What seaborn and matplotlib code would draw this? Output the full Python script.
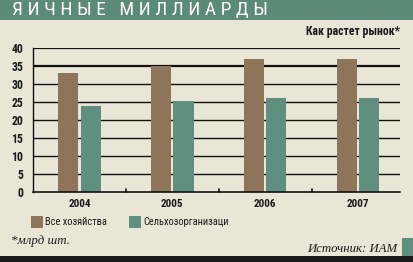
import matplotlib
matplotlib.use("Agg")
import matplotlib.pyplot as plt
import seaborn as sns
import pandas as pd
from matplotlib.patches import Rectangle
from matplotlib import font_manager as fm

years = ["2004", "2005", "2006", "2007"]
all_farms = [33.1, 35.1, 37.0, 37.0]
agri_orgs = [24.0, 25.2, 26.0, 26.0]
series_names = ["Все хозяйства", "Сельхозорганизаци"]
yticks = [0, 5, 10, 15, 20, 25, 30, 35, 40]

BG = "#e9e5d7"
BROWN = "#8e7559"
GREEN = "#5f8f7e"

df = pd.DataFrame({
    "year": years * 2,
    "value": all_farms + agri_orgs,
    "series": [series_names[0]] * 4 + [series_names[1]] * 4,
})

sns.set_theme(style="white")
installed = {f.name for f in fm.fontManager.ttflist}
COND = ["Roboto Condensed"] if "Roboto Condensed" in installed else ["DejaVu Sans"]
plt.rcParams["font.family"] = COND + ["DejaVu Sans"]
STRETCH = "condensed"

W, H = 414, 262
fig = plt.figure(figsize=(W / 100, H / 100), dpi=100, facecolor=BG)

def fx(px):
    return px / W

def fy(py):
    return 1 - py / H

ax = fig.add_axes([fx(33), fy(192), fx(400) - fx(33), fy(48) - fy(192)])
ax.set_facecolor(BG)

sns.barplot(data=df, x="year", y="value", hue="series", order=years,
            hue_order=series_names, palette=[BROWN, GREEN], width=0.48,
            gap=0.1, saturation=1, ax=ax, legend=False, edgecolor="none",
            linewidth=0, zorder=3)

ax.set_ylim(0, 40)
ax.set_xlim(-0.5, 3.45)
ax.set_yticks(yticks)
ax.set_yticklabels([str(t) for t in yticks], fontsize=8.5, fontweight="bold",
                   color="#1a1a1a", fontstretch=STRETCH)
for t in yticks[1:]:
    lw = 1.6 if t >= 35 else 1.0
    ax.axhline(t, color="#111111", lw=lw, zorder=1)
ax.set_xticks(range(len(years)))
ax.set_xticklabels(years, fontsize=8, fontweight="bold", color="#1a1a1a",
                   fontstretch=STRETCH)
ax.tick_params(axis="x", length=0, pad=5)
ax.tick_params(axis="y", length=0, pad=7)
for x in [0.5, 1.5, 2.5]:
    ax.plot([x, x], [0, 0.9], color="#111111", lw=1.2, clip_on=False)
ax.set_xlabel("")
ax.set_ylabel("")
for s in ["top", "right"]:
    ax.spines[s].set_visible(False)
ax.spines["left"].set_color("#111111")
ax.spines["left"].set_linewidth(1.0)
ax.spines["bottom"].set_color("#111111")
ax.spines["bottom"].set_linewidth(1.2)
ax.spines["bottom"].set_zorder(4)

# title band
fig.patches.append(Rectangle((0, fy(20)), 1, 1 - fy(20), transform=fig.transFigure,
                             facecolor="#5b8b78", edgecolor="none", zorder=0))
fig.text(fx(12), fy(10.5), "Я И Ч Н Ы Е   М И Л Л И А Р Д Ы", color="white",
         fontsize=14, va="center", ha="left", fontstretch=STRETCH)

fig.text(fx(400), fy(31), "Как растет рынок*", fontsize=8.5, fontweight="bold",
         ha="right", va="center", color="#1a1a1a", fontstretch=STRETCH)

# legend
fig.patches.append(Rectangle((fx(31), fy(228)), fx(12), fy(216) - fy(228),
                             transform=fig.transFigure, facecolor=BROWN, edgecolor="none"))
fig.text(fx(45), fy(222), series_names[0], fontsize=7.5, va="center", ha="left",
         color="#1a1a1a", fontstretch=STRETCH)
fig.patches.append(Rectangle((fx(129), fy(228)), fx(12), fy(216) - fy(228),
                             transform=fig.transFigure, facecolor=GREEN, edgecolor="none"))
fig.text(fx(143), fy(222), series_names[1], fontsize=7.5, va="center", ha="left",
         color="#1a1a1a", fontstretch=STRETCH)

fig.text(fx(11), fy(241), "*млрд шт.", fontsize=9.3, style="italic",
         family=["Liberation Serif", "DejaVu Serif"], va="center", ha="left",
         color="#1a1a1a")
fig.text(fx(397), fy(249), "Источник: ИАМ", fontsize=9.2, style="italic",
         family=["Liberation Serif", "DejaVu Serif"], va="center", ha="right",
         color="#1a1a1a")

# bottom decorations
fig.patches.append(Rectangle((fx(402), fy(256)), fx(12), fy(238) - fy(256),
                             transform=fig.transFigure, facecolor=GREEN, edgecolor="none"))
fig.patches.append(Rectangle((0, 0), 1, fy(256), transform=fig.transFigure,
                             facecolor="#1a1a1a", edgecolor="none"))

fig.savefig("out.png", dpi=100, facecolor=BG)
